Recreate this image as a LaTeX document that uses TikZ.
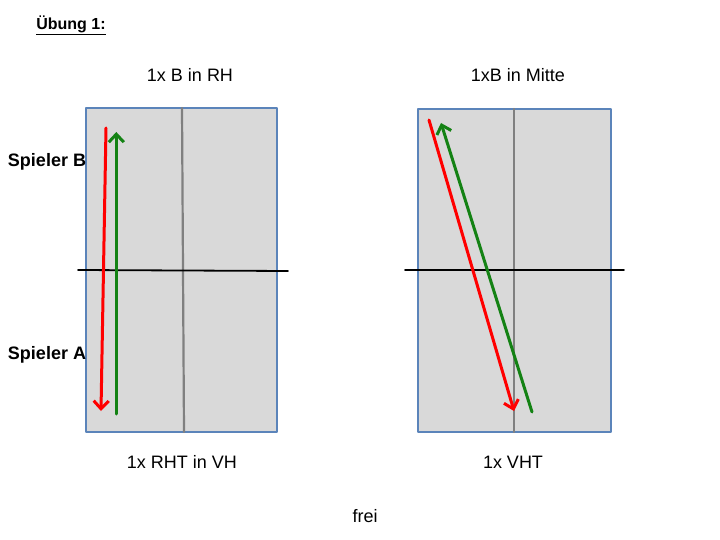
\documentclass[tikz,border=0pt]{standalone}
\usepackage{fontspec}
\setmainfont{Liberation Sans}
\usetikzlibrary{arrows.meta}
\definecolor{feldgrau}{RGB}{217,217,217}
\definecolor{feldblau}{RGB}{91,132,186}
\definecolor{ballrot}{RGB}{255,0,0}
\definecolor{ballgruen}{RGB}{20,130,20}

\begin{document}
\begin{tikzpicture}[x=1pt,y=-1pt,>={Straight Barb[length=8pt,width=15pt]},line cap=round,line join=round,
  feld/.style={fill=feldgrau,draw=feldblau,line width=1.6pt},
  mitte/.style={draw=gray,line width=2.2pt},
  netz/.style={draw=black,line width=1.8pt},
  rot/.style={draw=ballrot,line width=3pt},
  gruen/.style={draw=ballgruen,line width=3pt},
  titel/.style={font=\fontsize{18}{21}\selectfont},
  spieler/.style={font=\bfseries\fontsize{18}{21}\selectfont}]
\useasboundingbox (0,0) rectangle (720,540);
% left table
\coordinate (l1) at (86,108);
\coordinate (l2) at (277,432);
\coordinate (lm1) at (182,108);
\coordinate (lm2) at (184,432);
\coordinate (ln1) at (78,270);
\coordinate (ln2) at (288,271);
\draw[feld] (l1) rectangle (l2);
\draw[mitte] (lm1) -- (lm2);
\draw[netz] (ln1) -- (ln2);
\coordinate (lr1) at (106,128);
\coordinate (lr2) at (101,411);
\coordinate (lg1) at (116.3,414);
\coordinate (lg2) at (116.3,132);
\draw[rot,->] (lr1) -- (lr2);
\draw[gruen,->] (lg1) -- (lg2);
% right table
\coordinate (r1) at (418,109);
\coordinate (r2) at (611,432);
\coordinate (rm1) at (514,109);
\coordinate (rm2) at (514,432);
\coordinate (rn1) at (405,270);
\coordinate (rn2) at (624,270);
\draw[feld] (r1) rectangle (r2);
\draw[mitte] (rm1) -- (rm2);
\draw[netz] (rn1) -- (rn2);
\coordinate (rr1) at (429,120);
\coordinate (rr2) at (514,411);
\coordinate (rg1) at (532,412);
\coordinate (rg2) at (441,123);
\draw[rot,->] (rr1) -- (rr2);
\draw[gruen,->] (rg1) -- (rg2);
% texts
\node[font=\bfseries\fontsize{16}{19}\selectfont] (uebung) at (71,25) {\underline{Übung 1:}};
\node[titel] (aufgabeL) at (190,75) {1x B in RH};
\node[titel] (aufgabeR) at (518,75) {1xB in Mitte};
\node[spieler] (spielerB) at (47,162) {Spieler B};
\node[spieler] (spielerA) at (47,355) {Spieler A};
\node[titel] (schlagL) at (182,462) {1x RHT in VH};
\node[titel] (schlagR) at (513,462) {1x VHT};
\node[titel] (frei) at (365,516) {frei};
\end{tikzpicture}
\end{document}
